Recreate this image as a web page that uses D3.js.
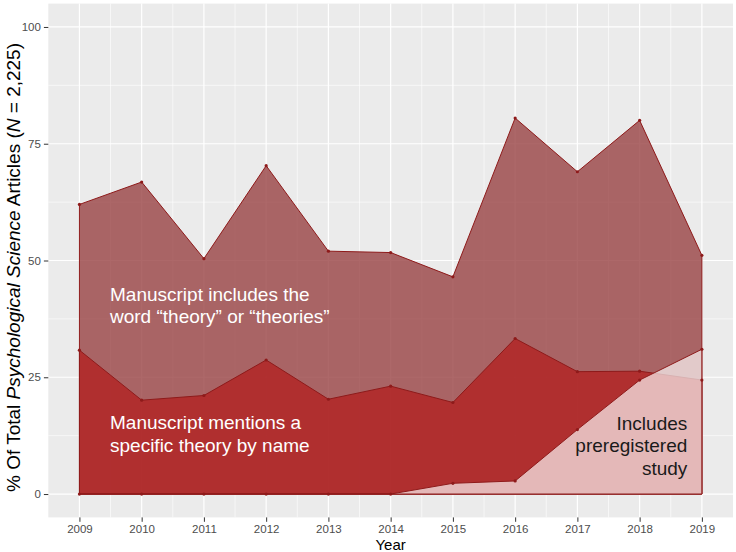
<!DOCTYPE html>
<html>
<head>
<meta charset="utf-8">
<script src="https://cdn.jsdelivr.net/npm/d3@7"></script>
<style>
  html, body { margin: 0; padding: 0; background: #ffffff; }
  svg { display: block; }
  text { font-family: "Liberation Sans", Arial, sans-serif; }
</style>
</head>
<body>
<svg id="chart" width="736" height="552"></svg>
<script>
// ---- data ----
const years = [2009, 2010, 2011, 2012, 2013, 2014, 2015, 2016, 2017, 2018, 2019];
const theoryWord = [62.0, 66.8, 50.4, 70.3, 52.0, 51.7, 46.5, 80.5, 69.0, 80.0, 51.1];
const specificTheory = [30.8, 20.1, 21.1, 28.7, 20.3, 23.1, 19.6, 33.3, 26.2, 26.3, 24.4];
const preregistered = [0, 0, 0, 0, 0, 0, 2.3, 2.8, 13.8, 24.4, 31.0];
const yTicks = [0, 25, 50, 75, 100];
const yMinor = [12.5, 37.5, 62.5, 87.5];
const xMinor = [2009.5, 2010.5, 2011.5, 2012.5, 2013.5, 2014.5, 2015.5, 2016.5, 2017.5, 2018.5];

const svg = d3.select("#chart");
const panel = { left: 48.3, right: 733, top: 3.6, bottom: 517.4 };

const x = d3.scaleLinear().domain([2008.5, 2019.5]).range([panel.left, panel.right]);
const y = d3.scaleLinear().domain([-5, 105]).range([panel.bottom, panel.top]);

// panel background
svg.append("rect")
  .attr("x", panel.left).attr("y", panel.top)
  .attr("width", panel.right - panel.left).attr("height", panel.bottom - panel.top)
  .attr("fill", "#ebebeb");

// grid
const g = svg.append("g");
g.selectAll(".ymin").data(yMinor).join("line")
  .attr("x1", panel.left).attr("x2", panel.right)
  .attr("y1", d => y(d)).attr("y2", d => y(d))
  .attr("stroke", "#fff").attr("stroke-width", 0.6);
g.selectAll(".xmin").data(xMinor).join("line")
  .attr("y1", panel.top).attr("y2", panel.bottom)
  .attr("x1", d => x(d)).attr("x2", d => x(d))
  .attr("stroke", "#fff").attr("stroke-width", 0.6);
g.selectAll(".ymaj").data(yTicks).join("line")
  .attr("x1", panel.left).attr("x2", panel.right)
  .attr("y1", d => y(d)).attr("y2", d => y(d))
  .attr("stroke", "#fff").attr("stroke-width", 1.2);
g.selectAll(".xmaj").data(years).join("line")
  .attr("y1", panel.top).attr("y2", panel.bottom)
  .attr("x1", d => x(d)).attr("x2", d => x(d))
  .attr("stroke", "#fff").attr("stroke-width", 1.2);

const lineCol = "#8e1a1a";

function polygonPath(vals) {
  const pts = years.map((yr, i) => [x(yr), y(vals[i])]);
  pts.push([x(years[years.length - 1]), y(0)]);
  pts.push([x(years[0]), y(0)]);
  return d3.line()(pts) + "Z";
}

const series = [
  { vals: theoryWord, fill: "rgb(153,66,67)", op: 0.8 },
  { vals: specificTheory, fill: "#b22222", op: 0.8 },
  { vals: preregistered, fill: "#ffffff", op: 0.66 }
];

series.forEach(s => {
  svg.append("path")
    .attr("d", polygonPath(s.vals))
    .attr("fill", s.fill).attr("fill-opacity", s.op)
    .attr("stroke", lineCol).attr("stroke-width", 1)
    .attr("stroke-linejoin", "round");
});

series.forEach(s => {
  svg.append("g").selectAll("circle").data(years).join("circle")
    .attr("cx", d => x(d)).attr("cy", (d, i) => y(s.vals[i]))
    .attr("r", 1.6).attr("fill", lineCol);
});

// axes
const xAxis = d3.axisBottom(x).tickValues(years).tickFormat(d3.format("d")).tickSize(4.4).tickPadding(3);
const xg = svg.append("g").attr("transform", `translate(0,${panel.bottom})`).call(xAxis);
xg.select(".domain").remove();
xg.selectAll("line").attr("stroke", "#333").attr("stroke-width", 1);
xg.selectAll("text").attr("fill", "#4d4d4d").style("font-size", "11.5px")
  .style("font-family", "Liberation Sans, Arial, sans-serif");

const yAxis = d3.axisLeft(y).tickValues(yTicks).tickSize(4.4).tickPadding(3);
const yg = svg.append("g").attr("transform", `translate(${panel.left},0)`).call(yAxis);
yg.select(".domain").remove();
yg.selectAll("line").attr("stroke", "#333").attr("stroke-width", 1);
yg.selectAll("text").attr("fill", "#4d4d4d").style("font-size", "11.5px")
  .style("font-family", "Liberation Sans, Arial, sans-serif");

// axis titles
svg.append("text")
  .attr("x", (panel.left + panel.right) / 2).attr("y", 549.5)
  .attr("text-anchor", "middle").attr("fill", "#000")
  .style("font-size", "15px").text("Year");

const yt = svg.append("text")
  .attr("transform", `translate(19.5,${(panel.top + panel.bottom) / 2 + 7}) rotate(-90)`)
  .attr("text-anchor", "middle").attr("fill", "#000")
  .style("font-size", "19px");
yt.append("tspan").text("% Of Total ");
yt.append("tspan").style("font-style", "italic").text("Psychological Science");
yt.append("tspan").text(" Articles (");
yt.append("tspan").style("font-style", "italic").text("N");
yt.append("tspan").text(" = 2,225)");

// annotations
function label(lines, xp, ys, anchor, color) {
  const t = svg.append("text").attr("text-anchor", anchor).attr("fill", color)
    .style("font-size", "19px");
  lines.forEach((l, i) => t.append("tspan").attr("x", xp).attr("y", ys[i]).text(l));
}
label(["Manuscript includes the", "word \u201Ctheory\u201D or \u201Ctheories\u201D"], 110, [300.7, 322.7], "start", "#ffffff");
label(["Manuscript mentions a", "specific theory by name"], 110, [429.3, 451.7], "start", "#ffffff");
label(["Includes", "preregistered", "study"], 687.3, [430, 452.3, 475], "end", "#1a1a1a");
</script>
</body>
</html>
